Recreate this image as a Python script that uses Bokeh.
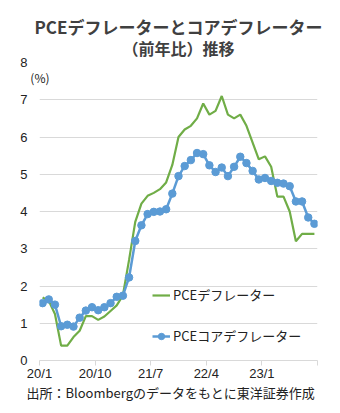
from bokeh.plotting import figure
from bokeh.models import (Legend, LegendItem, FixedTicker, ColumnDataSource, Range1d,
                          Title, LinearAxis)
from bokeh.embed import file_html
from bokeh.resources import INLINE

title_lines = ["PCEデフレーターとコアデフレーター", "（前年比）推移"]
source_note = "出所：Bloombergのデータをもとに東洋証券作成"
unit_label = "(%)"
series_names = ["PCEデフレーター", "PCEコアデフレーター"]

# monthly, 2020/1 .. 2023/9
pce = [1.69, 1.60, 1.25, 0.40, 0.40, 0.63, 0.80, 1.19, 1.19, 1.09, 1.18, 1.33,
       1.48, 1.75, 2.70, 3.72, 4.21, 4.42, 4.50, 4.60, 4.78, 5.25, 6.00, 6.20,
       6.30, 6.50, 6.90, 6.60, 6.70, 7.10, 6.60, 6.50, 6.60, 6.30, 5.85, 5.40,
       5.48, 5.20, 4.40, 4.40, 4.00, 3.20, 3.40, 3.40, 3.40]
core = [1.54, 1.64, 1.50, 0.92, 0.96, 0.91, 1.15, 1.34, 1.43, 1.35, 1.43, 1.54,
        1.71, 1.74, 2.23, 3.21, 3.63, 3.93, 3.99, 4.00, 4.06, 4.48, 4.95, 5.22,
        5.38, 5.57, 5.54, 5.24, 5.06, 5.18, 4.95, 5.20, 5.47, 5.30, 5.09, 4.86,
        4.90, 4.82, 4.77, 4.75, 4.68, 4.27, 4.27, 3.84, 3.67]
tick_labels = ["20/1", "20/10", "21/7", "22/4", "23/1"]
tick_step = 9
y_ticks = [0, 1, 2, 3, 4, 5, 6, 7, 8]
unit_pos = 7.6

n = len(pce)
xs = [i + 0.5 for i in range(n)]
src = ColumnDataSource(dict(x=xs, pce=pce, core=core))

text_color = "#404040"
grid_color = "#d9d9d9"
label_color = "#222222"

p = figure(width=340, height=413, output_backend="svg", toolbar_location=None,
           x_range=Range1d(0, n), y_range=Range1d(0, 8),
           min_border_left=39, min_border_right=23, min_border_top=62, min_border_bottom=53)
p.outline_line_color = None
p.background_fill_color = "white"

# title: p.title is the outer (top) line, the added Title sits below it
p.title.text = title_lines[0]
p.title.align = "center"
p.title.text_font = "Noto Sans CJK JP"
p.title.text_font_size = "17px"
p.title.text_font_style = "bold"
p.title.text_color = text_color
p.title.standoff = -17
p.add_layout(Title(text=title_lines[1], align="center", text_font="Noto Sans CJK JP",
                   text_font_size="16px", text_font_style="bold", text_color=text_color,
                   standoff=6), "above")

# axes
tick_pos = [i * tick_step for i in range(len(tick_labels) + 1)]
p.xaxis.ticker = FixedTicker(ticks=tick_pos)
overrides = {tick_pos[i]: tick_labels[i] for i in range(len(tick_labels))}
overrides[tick_pos[-1]] = ""
p.xaxis.major_label_overrides = overrides
p.xaxis.axis_line_color = grid_color
p.xaxis.major_tick_line_color = grid_color
p.xaxis.major_tick_out = 5
p.xaxis.major_tick_in = 0
p.xaxis.minor_tick_line_color = None
p.xaxis.major_label_standoff = 0
p.xaxis.major_label_text_font = "Liberation Sans"
p.xaxis.major_label_text_font_size = "13px"
p.xaxis.major_label_text_color = label_color
p.xgrid.grid_line_color = None

p.yaxis.ticker = FixedTicker(ticks=y_ticks)
p.yaxis.axis_line_color = None
p.yaxis.major_tick_line_color = None
p.yaxis.minor_tick_line_color = None
p.yaxis.major_tick_out = 0
p.yaxis.major_label_standoff = 12
p.yaxis.major_label_text_font = "Liberation Sans"
p.yaxis.major_label_text_font_size = "13px"
p.yaxis.major_label_text_color = label_color
p.ygrid.ticker = FixedTicker(ticks=y_ticks[1:])
p.ygrid.grid_line_color = grid_color
p.ygrid.grid_line_width = 1

# unit label as a second left axis
ua = LinearAxis(ticker=FixedTicker(ticks=[unit_pos]), major_label_overrides={unit_pos: unit_label},
                axis_line_color=None, major_tick_line_color=None, minor_tick_line_color=None,
                major_tick_out=0, major_label_standoff=-32,
                major_label_text_font="Noto Sans CJK JP", major_label_text_font_size="12px",
                major_label_text_color=label_color)
p.add_layout(ua, "left")

# source note
p.add_layout(Title(text=source_note, align="left", offset=-13, text_font="Noto Sans CJK JP",
                   text_font_size="13px", text_font_style="normal", text_color=label_color,
                   standoff=-6), "below")

# series
g = p.line("x", "pce", source=src, line_color="#70AD47", line_width=2.2)
b = p.line("x", "core", source=src, line_color="#5B9BD5", line_width=2.5)
bm = p.scatter("x", "core", source=src, size=7.5, fill_color="#5B9BD5", line_color="#5B9BD5")

legend = Legend(items=[LegendItem(label=series_names[0], renderers=[g]),
                       LegendItem(label=series_names[1], renderers=[b, bm])],
                location=(113, 15), border_line_color=None, background_fill_alpha=0,
                padding=0, margin=0, spacing=22, label_height=16, glyph_height=16,
                glyph_width=18, label_standoff=3, label_text_font="Noto Sans CJK JP",
                label_text_font_size="13px", label_text_color=label_color)
p.add_layout(legend)

open("out.html", "w").write(file_html(p, INLINE))
